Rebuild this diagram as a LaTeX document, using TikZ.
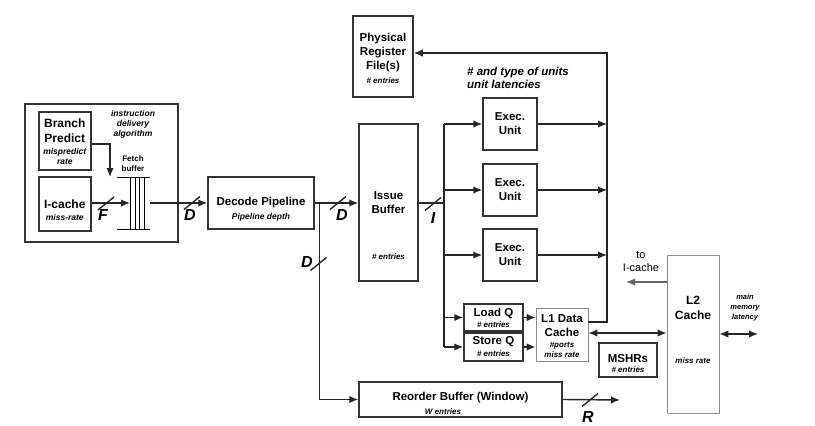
\documentclass[tikz,border=0pt]{standalone}
\usepackage{fontspec}
\setmainfont{Liberation Sans}
\usepackage{tikz}
\usetikzlibrary{arrows.meta}

\tikzset{
  blk/.style={draw=black!80, line width=1.5pt, inner sep=0pt},
  gblk/.style={draw=black!45, line width=0.8pt, inner sep=0pt},
  ttl/.style={font=\bfseries\fontsize{11.5}{14}\selectfont, align=center, inner sep=0pt},
  sub/.style={font=\bfseries\itshape\fontsize{8.5}{10}\selectfont, align=center, inner sep=0pt},
  ent/.style={font=\bfseries\itshape\fontsize{8}{9.5}\selectfont, align=center, inner sep=0pt},
  wid/.style={font=\bfseries\itshape\fontsize{16}{18}\selectfont, inner sep=0pt},
  wire/.style={line width=1.4pt, black!85},
  arr/.style={wire, -{Latex[length=9pt,width=7.5pt]}},
  arrtwo/.style={wire, {Latex[length=9pt,width=7.5pt]}-{Latex[length=9pt,width=7.5pt]}},
}
\newcommand{\buswidth}[1]{\draw[wire] #1 ++(-8,6.5) -- ++(16,-13);}

\begin{document}
\begin{tikzpicture}[x=1pt, y=-1pt]
    \useasboundingbox (0,0) rectangle (815,426);

    % fetch unit
    \node[blk, minimum width=153pt, minimum height=138pt] (fetch) at (101.5,173) {};
    \node[blk, minimum width=52pt, minimum height=58pt] (bp) at (64.8,141) {};
    \node[ttl, font=\bfseries\fontsize{12}{15}\selectfont] at (64.8,131) {Branch\\Predict};
    \node[sub] at (64.8,156.5) {mispredict\\rate};
    \node[blk, minimum width=52pt, minimum height=54pt] (icache) at (64.8,204) {};
    \node[ttl, font=\bfseries\fontsize{12}{15}\selectfont] at (64.8,204) {I-cache};
    \node[sub] at (64.8,217.5) {miss-rate};
    \node[sub] at (133,124) {instruction\\delivery\\algorithm};
    \node[font=\bfseries\fontsize{8}{10}\selectfont, align=center, inner sep=0pt] at (133,164) {Fetch\\buffer};
    \draw[line width=0.9pt] (117,177) -- (150,177) (117,229) -- (150,229);
    \foreach \x in {130,135,139.5,144}
        \draw[line width=0.9pt] (\x,177) -- (\x,229);
    \coordinate (fbin) at (130,203);
    \coordinate (fbout) at (150,203);
    \coordinate (fbtop) at (110,177);

    % decode / issue
    \node[blk, minimum width=106pt, minimum height=52pt] (decode) at (261,203) {};
    \node[ttl] at (261,203) {Decode Pipeline};
    \node[sub] at (261,217) {Pipeline depth};
    \node[blk, minimum width=59pt, minimum height=157pt] (issue) at (388.5,202.5) {};
    \node[ttl] at (388.5,203) {Issue\\Buffer};
    \node[ent] at (388.5,257) {\# entries};
    \node[blk, minimum width=60pt, minimum height=81pt] (prf) at (383,56.5) {};
    \node[ttl] at (383,52.5) {Physical\\Register\\File(s)};
    \node[ent] at (383,80.5) {\# entries};

    % execution
    \node[font=\bfseries\itshape\fontsize{11.5}{13}\selectfont, align=left, inner sep=0pt, anchor=west] at (467,77.5) {\# and type of units\\unit latencies};
    \foreach \n/\y in {exa/124, exb/190, exc/255} {
        \node[blk, minimum width=54pt, minimum height=52pt] (\n) at (510,\y) {};
        \node[ttl] at (510,\y) {Exec.\\Unit};
    }
    \node[blk, minimum width=59pt, minimum height=27pt] (loadq) at (493.5,317.5) {};
    \node[ttl] at (493.5,313) {Load Q};
    \node[ent] at (493.5,325) {\# entries};
    \node[blk, minimum width=59pt, minimum height=28pt] (storeq) at (493.5,347) {};
    \node[ttl] at (493.5,342) {Store Q};
    \node[ent] at (493.5,354) {\# entries};
    \node[gblk, minimum width=52pt, minimum height=53pt] (lone) at (562,334.5) {};
    \node[ttl, fill=white] at (562,326) {L1 Data\\Cache};
    \node[ent] at (562,350) {\#ports\\miss rate};
    \node[blk, minimum width=58pt, minimum height=34pt] (mshr) at (628,360) {};
    \node[ttl] at (628,358.5) {MSHRs};
    \node[ent] at (628,370) {\# entries};
    \node[gblk, minimum width=52pt, minimum height=158pt] (ltwo) at (693,334) {};
    \node[ttl, font=\bfseries\fontsize{12}{15}\selectfont] at (693,308) {L2\\Cache};
    \node[ent] at (693,361) {miss rate};
    \node[font=\fontsize{11}{13}\selectfont, align=center, inner sep=0pt] at (641,261.5) {to\\I-cache};
    \node[ent, font=\bfseries\itshape\fontsize{7.5}{10}\selectfont] at (745,308) {main\\memory\\latency};
    \node[blk, minimum width=203pt, minimum height=35pt] (rob) at (460.5,399.5) {};
    \node[ttl] at (460.5,398) {Reorder Buffer (Window)};
    \node[ent] at (443,411.5) {W entries};

    \coordinate (dsplit) at (319.3,203);
    \coordinate (ibus) at (444,203);
    \coordinate (rbus) at (607,53);
    \coordinate (toic) at (626,282);
    \coordinate (mem) at (758,334);
    \coordinate (robout) at (620,400);

    % connectors
    \draw[arr] ([yshift=-3pt]bp.east) -| (fbtop);
    \draw[arr] (icache.east |- fbin) -- (fbin);
    \draw[arr] (fbout) -- (fbout -| decode.west);
    \draw[arr] (decode.east) -- (decode.east -| issue.west);
    \draw[arr] (dsplit) |- (rob.west);
    \draw[wire] (issue.east |- ibus) -- (ibus);
    \draw[wire] (ibus |- exa.west) -- (ibus |- storeq.west);
    \foreach \n in {exa,exb,exc,loadq,storeq}
        \draw[arr] (ibus |- \n.west) -- (\n.west);
    \foreach \n in {exa,exb,exc}
        \draw[arr] (\n.east) -- (\n.east -| rbus);
    \draw[arr] (loadq.east) -- (loadq.east -| lone.west);
    \draw[arr] (storeq.east) -- (storeq.east -| lone.west);
    \draw[arr] ([yshift=12.5pt]lone.east) -| (rbus) -- (rbus -| prf.east);
    \draw[arrtwo] ([yshift=1.5pt]lone.east) -- ([yshift=1.5pt]lone.east -| ltwo.west);
    \draw[arr, black!60] (toic -| ltwo.west) -- (toic);
    \draw[arrtwo] (ltwo.east |- mem) -- (mem);
    \draw[arr] (rob.east) -- (robout);

    % bus widths
    \buswidth{(106,203.5)}
    \buswidth{(192,203)}
    \buswidth{(338,203)}
    \buswidth{(318.5,264)}
    \buswidth{(433,204)}
    \buswidth{(590,400)}
    \node[wid] at (103,215) {F};
    \node[wid] at (190,215) {D};
    \node[wid] at (342,215) {D};
    \node[wid] at (307,262) {D};
    \node[wid] at (433,218) {I};
    \node[wid] at (588,417) {R};
\end{tikzpicture}
\end{document}
